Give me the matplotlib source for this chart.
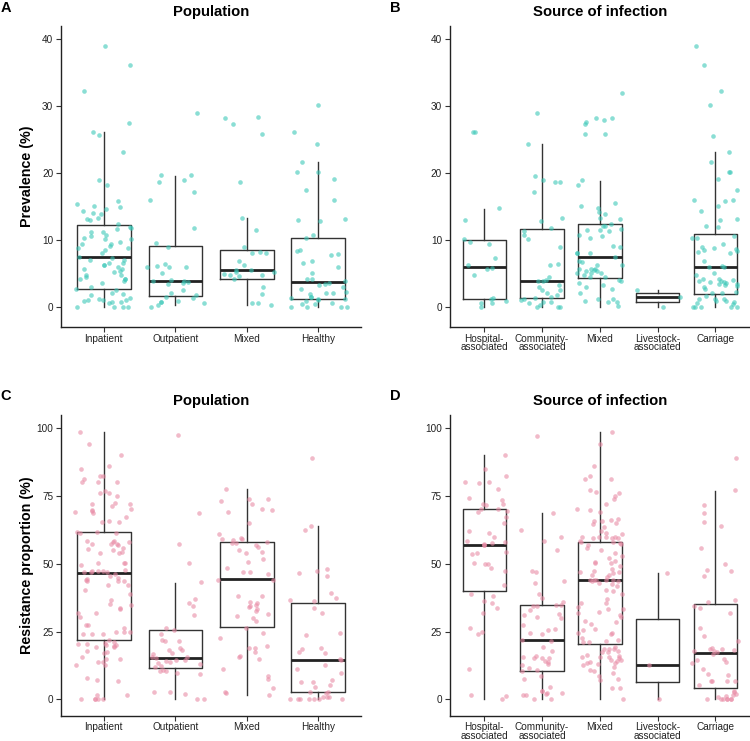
import numpy as np
import matplotlib
matplotlib.use("Agg")
import matplotlib.pyplot as plt

plt.rcParams['font.family'] = ['Liberation Sans', 'DejaVu Sans']

# --- Categories ---
pop_labels = ['Inpatient', 'Outpatient', 'Mixed', 'Healthy']
src_labels = ['Hospital-\nassociated', 'Community-\nassociated', 'Mixed',
              'Livestock-\nassociated', 'Carriage']

# --- A: prevalence by population (%) ---
a_inpatient = [39.0, 36.1, 32.2, 27.5, 26.1, 25.7, 23.1, 18.9, 18.2, 15.4, 15.8, 14.6, 15.1,
               14.9, 14.0, 13.9, 14.3, 13.2, 13.1, 12.9, 12.3, 11.2, 11.2, 11.8, 11.9, 11.6,
               10.7, 10.5, 10.3, 10.1, 10.1, 9.3, 9.3, 9.7, 9.0, 8.7, 8.8, 8.5, 8.0, 7.4, 7.3,
               7.0, 6.6, 7.0, 6.5, 6.3, 6.3, 6.0, 5.6, 5.6, 5.2, 5.3, 4.8, 4.7, 4.5, 4.2, 3.8,
               4.1, 4.1, 3.5, 3.0, 2.7, 2.1, 2.5, 1.9, 1.8, 1.0, 0.7, 0.7, 1.3, 0.8, 1.0, 1.0,
               1.1, 0.6, 0.0, 0.0, 0.0, 0.0]
a_outpatient = [29.0, 19.0, 19.7, 19.7, 18.6, 17.1, 16.0, 11.8, 9.5, 8.9, 6.4, 5.9, 6.1, 5.9,
                6.0, 5.1, 4.0, 3.8, 3.6, 3.4, 3.7, 3.9, 2.1, 1.7, 2.5, 1.3, 1.5, 0.9, 0.25, 0.6,
                0.7, 0.75, 0.0]
a_mixed = [27.3, 25.8, 28.4, 28.2, 18.7, 13.3, 11.5, 8.9, 8.1, 8.0, 8.2, 6.9, 6.2, 4.6, 4.9,
           4.7, 4.1, 5.2, 5.5, 5.5, 5.2, 4.8, 3.0, 1.9, 0.5, 0.2, 0.5]
a_healthy = [30.2, 26.2, 24.4, 21.6, 20.1, 20.2, 19.1, 17.5, 16.0, 12.8, 13.0, 13.1, 10.7, 10.2,
             7.9, 8.3, 7.7, 8.4, 6.8, 6.6, 5.9, 5.1, 3.8, 3.4, 3.6, 3.3, 4.2, 4.1, 2.9, 2.6,
             2.2, 2.1, 1.9, 2.1, 1.5, 1.4, 1.0, 1.3, 1.2, 1.1, 0.8, 0.5, 0.35, 0.4, 0.0, 0.0,
             0.0, 0.0]
a_q1 = [2.6, 1.6, 4.2, 1.2]
a_med = [7.4, 3.9, 5.5, 3.7]
a_q3 = [12.2, 9.1, 8.5, 10.3]
a_lo = [0.0, 0.2, 0.2, 0.0]
a_hi = [26.1, 19.6, 13.2, 21.6]

# --- B: prevalence by source of infection (%) ---
b_hospital = [26.2, 26.1, 14.7, 12.9, 9.4, 7.3, 9.7, 10.1, 4.8, 5.8, 5.6, 6.2, 0.5, 0.55, 0.0,
              1.1, 0.9, 1.3]
b_community = [29.0, 24.3, 19.6, 18.9, 18.7, 18.6, 17.1, 13.2, 12.8, 11.7, 11.3, 10.7, 10.1,
               8.9, 6.3, 6.4, 4.5, 3.9, 3.8, 4.0, 3.2, 3.0, 2.5, 2.0, 1.8, 2.5, 1.5, 1.3,
               0.75, 0.55, 1.1, 1.0, 0.75, 0.25, 0.0, 0.0, 0.0]
b_mixed = [32.0, 28.0, 28.2, 28.3, 27.6, 27.3, 25.9, 25.8, 18.9, 18.2, 15.5, 15.0, 14.7, 14.1,
           13.9, 13.3, 13.1, 12.4, 12.1, 12.0, 11.5, 11.6, 11.4, 11.3, 10.6, 10.7, 10.2, 8.9,
           9.0, 8.1, 8.1, 8.0, 7.4, 6.7, 6.9, 6.2, 6.3, 5.6, 5.6, 5.6, 5.5, 5.0, 5.0, 4.7,
           5.4, 5.4, 5.1, 4.5, 4.5, 4.0, 3.8, 3.5, 3.0, 3.2, 2.6, 2.1, 0.9, 1.1, 0.75, 0.1,
           0.75, 1.1]
b_livestock = [2.5, 1.5, 0.0]
b_carriage = [39.0, 36.1, 32.2, 30.2, 25.6, 23.1, 20.1, 19.1, 20.2, 21.6, 17.5, 13.0, 13.1,
              16.0, 16.0, 15.1, 15.8, 14.3, 11.9, 12.1, 10.3, 10.2, 10.5, 9.3, 8.9, 8.5, 8.8,
              8.1, 8.2, 8.3, 8.6, 6.8, 6.1, 6.0, 5.9, 4.8, 5.1, 4.2, 3.9, 3.7, 4.0, 4.1, 3.9,
              3.7, 3.4, 3.4, 3.3, 3.5, 3.1, 2.7, 2.9, 2.0, 1.6, 2.1, 2.2, 1.1, 0.9, 1.1, 1.1,
              0.75, 0.85, 0.4, 0.6, 0.0, 0.0, 0.0, 0.0, 0.0]
b_q1 = [1.15, 1.35, 4.25, 0.75, 1.9]
b_med = [6.0, 3.9, 7.4, 1.5, 5.9]
b_q3 = [10.0, 11.6, 12.3, 2.0, 10.85]
b_lo = [0.0, 0.0, 0.0, 0.0, 0.0]
b_hi = [14.6, 24.3, 18.85, 2.5, 23.2]

# --- C: resistance proportion by population (%) ---
c_inpatient = [98.4, 94.1, 89.9, 85.9, 84.8, 82.4, 82.4, 81.2, 80.0, 80.1, 80.0, 76.9, 75.9,
               76.2, 74.9, 72.0, 72.0, 71.4, 72.5, 69.5, 69.0, 70.3, 69.9, 68.6, 67.3, 65.7,
               65.5, 65.5, 61.8, 61.4, 61.8, 61.4, 58.0, 57.9, 58.2, 57.2, 57.2, 56.8, 57.2,
               55.4, 55.9, 54.9, 58.2, 54.2, 53.8, 53.9, 50.1, 49.6, 50.2, 50.1, 47.4, 46.9,
               46.1, 47.4, 47.7, 46.8, 46.8, 47.4, 45.6, 44.2, 44.1, 44.7, 43.7, 42.1, 42.0,
               43.7, 43.7, 40.2, 38.7, 36.6, 35.0, 34.9, 33.5, 33.7, 31.9, 31.7, 30.2, 27.5,
               27.3, 26.4, 24.1, 24.2, 24.2, 24.8, 24.9, 24.9, 20.3, 19.9, 20.0, 20.4, 19.2,
               19.2, 22.0, 21.1, 19.5, 20.9, 17.6, 17.8, 17.2, 15.7, 13.9, 14.9, 15.0, 13.9,
               12.5, 12.5, 7.9, 6.9, 7.1, 1.6, 1.6, 0.0, 0.0, 0.0, 0.0, 0.0]
c_outpatient = [97.3, 68.8, 57.1, 50.1, 43.1, 37.0, 35.7, 34.5, 31.1, 24.1, 25.7, 26.4, 21.9,
                21.5, 21.6, 18.2, 18.9, 16.7, 17.1, 18.2, 15.7, 15.7, 15.2, 14.6, 13.8, 14.4,
                14.3, 13.5, 13.0, 12.3, 11.8, 10.8, 10.6, 10.4, 9.8, 9.2, 2.8, 2.8, 2.1,
                0.0, 0.0]
c_mixed = [77.6, 74.0, 74.0, 73.2, 71.9, 69.2, 70.0, 69.8, 65.0, 60.8, 59.1, 59.1, 57.9,
           57.5, 56.9, 59.6, 58.7, 56.3, 57.7, 55.0, 54.3, 53.8, 51.6, 50.5, 48.6, 46.9,
           46.2, 46.8, 44.1, 44.1, 38.1, 38.2, 35.5, 36.0, 32.4, 31.4, 33.2, 33.9, 34.4,
           34.9, 30.8, 29.0, 30.1, 24.3, 26.2, 22.5, 18.8, 19.5, 18.9, 17.4, 16.1, 15.7,
           14.9, 11.1, 8.6, 7.4, 4.3, 2.5, 2.6, 1.6]
c_healthy = [88.8, 62.4, 64.0, 47.9, 46.7, 47.3, 45.5, 39.1, 36.6, 37.3, 36.4, 33.7, 31.9,
             23.6, 24.4, 18.6, 18.8, 17.3, 17.0, 14.7, 15.0, 11.2, 12.5, 9.6, 6.6, 6.6, 5.3,
             7.0, 4.4, 2.2, 2.8, 2.9, 1.0, 1.0, 1.0, 0.0, 0.0, 0.0, 0.0, 0.0, 0.0, 0.0]
c_q1 = [21.9, 11.4, 26.5, 2.7]
c_med = [46.7, 15.2, 44.2, 14.5]
c_q3 = [61.7, 25.7, 58.0, 35.7]
c_lo = [0.0, 0.0, 1.6, 0.0]
c_hi = [98.4, 43.0, 77.6, 64.0]

# --- D: resistance proportion by source of infection (%) ---
d_hospital = [89.9, 84.8, 82.3, 80.0, 80.0, 79.9, 77.6, 74.3, 73.3, 71.5, 72.0, 71.9, 70.0,
              70.0, 69.5, 69.2, 67.3, 64.9, 61.9, 61.3, 60.0, 58.1, 57.7, 58.4, 57.2, 56.9,
              56.9, 54.4, 53.8, 53.7, 49.8, 48.3, 47.4, 50.0, 50.1, 42.1, 36.2, 35.4, 31.7,
              38.8, 38.1, 33.7, 26.4, 24.8, 24.2, 11.1, 1.5, 1.2, 0.0]
d_community = [97.2, 68.6, 62.3, 60.0, 58.2, 55.2, 47.4, 46.8, 43.0, 43.6, 38.7, 37.3, 35.9,
               34.8, 34.5, 34.5, 34.8, 31.1, 30.2, 31.6, 30.0, 32.9, 27.4, 26.0, 25.7, 24.3,
               24.0, 21.9, 21.6, 19.4, 17.9, 15.7, 15.2, 16.0, 15.1, 15.1, 13.9, 14.0, 13.0,
               12.7, 11.7, 10.4, 10.8, 8.6, 7.4, 4.7, 3.2, 3.1, 2.3, 2.5, 2.0, 1.6, 1.6,
               0.0, 0.0]
d_mixed = [98.4, 94.1, 86.0, 81.4, 81.2, 82.3, 77.0, 76.3, 75.9, 74.0, 74.9, 72.0, 70.1, 69.8,
           69.0, 66.3, 65.8, 65.8, 65.1, 64.6, 66.0, 63.4, 62.0, 61.5, 60.0, 59.7, 59.3, 60.9,
           59.9, 59.3, 60.0, 59.3, 58.5, 58.0, 58.1, 57.6, 57.0, 57.2, 55.7, 55.2, 53.8, 52.9,
           52.2, 51.1, 50.6, 50.4, 50.1, 49.0, 48.0, 47.2, 46.4, 47.0, 46.8, 45.8, 45.8, 45.2,
           44.0, 44.0, 43.7, 44.0, 43.7, 44.0, 44.1, 42.8, 42.4, 41.8, 40.3, 40.0, 38.8, 36.9,
           35.6, 35.7, 33.9, 33.5, 33.4, 32.3, 31.1, 31.8, 30.2, 29.0, 28.5, 27.8, 25.8, 25.4,
           24.6, 24.3, 24.0, 22.7, 21.6, 21.3, 21.9, 21.3, 18.7, 17.9, 17.6, 17.3, 18.4, 18.7,
           19.4, 16.3, 16.0, 15.7, 15.2, 15.7, 14.7, 14.6, 15.7, 14.3, 13.8, 13.6, 13.5, 13.0,
           12.5, 12.0, 10.9, 8.7, 9.6, 10.4, 7.4, 7.1, 4.3, 4.1, 0.0]
d_livestock = [46.7, 12.5, 0.0]
d_carriage = [88.8, 77.0, 71.7, 68.7, 65.5, 64.0, 55.9, 50.0, 47.8, 47.3, 45.5, 36.6, 35.9,
              34.6, 33.8, 31.9, 26.4, 23.5, 21.4, 18.8, 18.7, 17.6, 17.9, 18.2, 17.7, 18.6,
              16.8, 15.0, 13.8, 13.3, 14.6, 11.3, 9.5, 9.0, 6.9, 6.8, 6.9, 6.8, 5.2, 3.2, 2.9,
              2.1, 1.2, 1.5, 1.0, 0.0, 0.0, 0.0, 0.0, 0.0, 0.0, 0.0]
d_q1 = [39.8, 10.4, 20.4, 6.25, 4.1]
d_med = [57.0, 21.9, 44.0, 12.5, 17.0]
d_q3 = [70.0, 34.8, 58.0, 29.6, 35.0]
d_lo = [0.0, 0.0, 0.0, 0.0, 0.0]
d_hi = [89.9, 68.6, 98.4, 46.7, 76.9]

TEAL = '#3cc8b8'
PINK = '#e98ca6'

fig = plt.figure(figsize=(7.5, 7.41), dpi=100)
W, H = 750, 741


def add_axes(left, right, top, bottom):
    return fig.add_axes([left / W, 1 - bottom / H, (right - left) / W, (bottom - top) / H])


def panel(ax, groups, labels, q1, med, q3, lo, hi, color, ylim, yticks, seed):
    rng = np.random.default_rng(seed)
    positions = np.arange(1, len(groups) + 1)
    stats = [dict(q1=a, med=m, q3=b, whislo=l, whishi=h, fliers=[])
             for a, m, b, l, h in zip(q1, med, q3, lo, hi)]
    ax.bxp(stats, positions=positions, widths=0.75, showfliers=False, showcaps=False,
           patch_artist=False,
           boxprops=dict(color='#333333', linewidth=1.0),
           whiskerprops=dict(color='#333333', linewidth=1.0),
           medianprops=dict(color='#222222', linewidth=2.0),
           zorder=2)
    for pos, vals in zip(positions, groups):
        vals = np.asarray(vals)
        x = pos + rng.uniform(-0.4, 0.4, len(vals))
        ax.scatter(x, vals, s=11, marker='o', color=color, alpha=0.6,
                   linewidths=0, zorder=3)
    ax.set_xlim(0.4, len(groups) + 0.6)
    ax.set_ylim(*ylim)
    ax.set_yticks(yticks)
    ax.set_xticks(positions)
    ax.set_xticklabels(labels, linespacing=0.85)
    for s in ['top', 'right']:
        ax.spines[s].set_visible(False)
    for s in ['left', 'bottom']:
        ax.spines[s].set_linewidth(1.0)
        ax.spines[s].set_color('#222222')
    ax.tick_params(axis='both', labelsize=7.2, length=3.5, width=0.8, color='#333333',
                   labelcolor='#222222', pad=2)
    ax.tick_params(axis='x', pad=1.2)


axA = add_axes(61, 361, 26, 327)
panel(axA, [a_inpatient, a_outpatient, a_mixed, a_healthy], pop_labels,
      a_q1, a_med, a_q3, a_lo, a_hi, TEAL, (-3.05, 42), [0, 10, 20, 30, 40], 1)
axB = add_axes(449.7, 750, 26, 327)
panel(axB, [b_hospital, b_community, b_mixed, b_livestock, b_carriage], src_labels,
      b_q1, b_med, b_q3, b_lo, b_hi, TEAL, (-3.05, 42), [0, 10, 20, 30, 40], 2)
axC = add_axes(61, 361, 415, 715.7)
panel(axC, [c_inpatient, c_outpatient, c_mixed, c_healthy], pop_labels,
      c_q1, c_med, c_q3, c_lo, c_hi, PINK, (-6.0, 104.8), [0, 25, 50, 75, 100], 3)
axD = add_axes(449.7, 750, 415, 715.7)
panel(axD, [d_hospital, d_community, d_mixed, d_livestock, d_carriage], src_labels,
      d_q1, d_med, d_q3, d_lo, d_hi, PINK, (-6.0, 104.8), [0, 25, 50, 75, 100], 4)

# titles, panel letters, y labels
fig.text(211 / W, 1 - 12 / H, 'Population', ha='center', va='center',
         fontsize=10.7, fontweight='bold')
fig.text(600 / W, 1 - 12 / H, 'Source of infection', ha='center', va='center',
         fontsize=10.7, fontweight='bold')
fig.text(211 / W, 1 - 401 / H, 'Population', ha='center', va='center',
         fontsize=10.7, fontweight='bold')
fig.text(600 / W, 1 - 401 / H, 'Source of infection', ha='center', va='center',
         fontsize=10.7, fontweight='bold')
for lab, x, y in [('A', 6, 8), ('B', 395, 8), ('C', 6, 396), ('D', 395, 396)]:
    fig.text(x / W, 1 - y / H, lab, ha='center', va='center', fontsize=10.5,
             fontweight='bold')
fig.text(27 / W, 1 - 176.5 / H, 'Prevalence (%)', rotation=90, ha='center',
         va='center', fontsize=10.3, fontweight='bold')
fig.text(27 / W, 1 - 565 / H, 'Resistance proportion (%)', rotation=90, ha='center',
         va='center', fontsize=10.3, fontweight='bold')

fig.savefig('out.png', dpi=100)
